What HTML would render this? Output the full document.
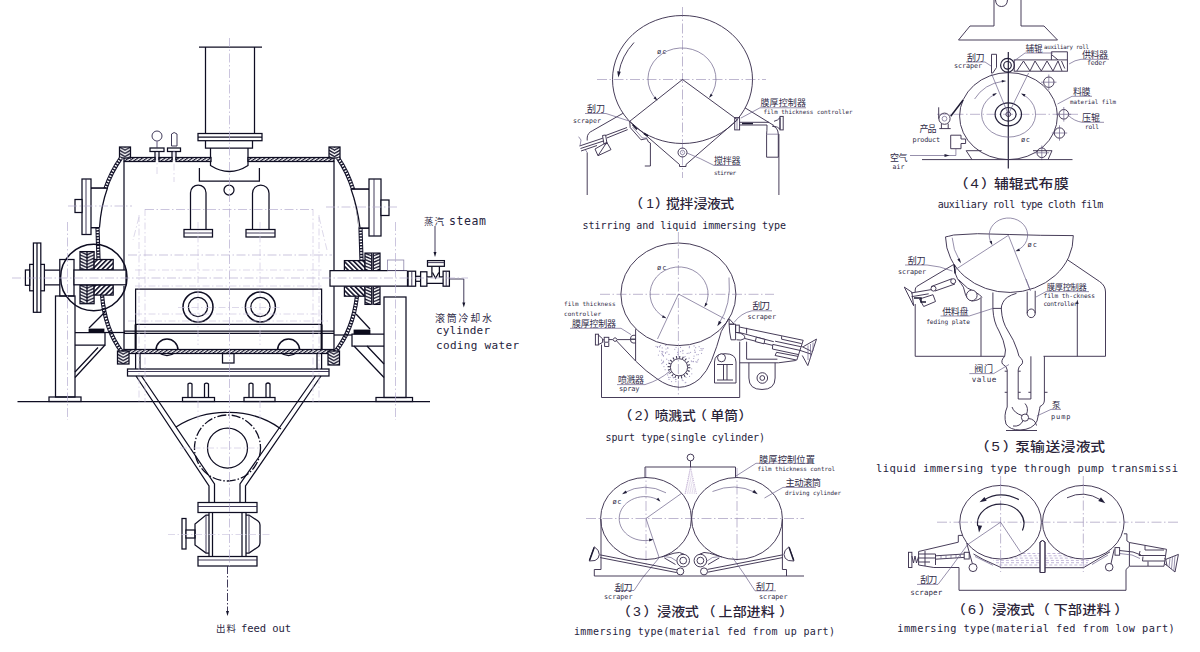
<!DOCTYPE html>
<html lang="zh"><head><meta charset="utf-8"><title>Drum dryer structure diagram</title>
<style>
html,body{margin:0;padding:0;background:#fff;}
body{width:1200px;height:652px;overflow:hidden;}
svg{display:block;}
.k{fill:none;stroke:#0e0d22;stroke-width:1.25;}
.kw{fill:#fff;stroke:#0e0d22;stroke-width:1.25;}
.kw2{fill:none;stroke:#0e0d22;stroke-width:1.5;}
.kgap{fill:none;stroke:#fff;stroke-width:2.4;}
.tl{fill:none;stroke:#8d86aa;stroke-width:.8;}
.td{fill:none;stroke:#2c2648;stroke-width:.9;stroke-dasharray:8 2 1.5 2;}
.kb{fill:none;stroke:#0c0b1c;stroke-width:2;}
.kf{fill:#0c0b1c;stroke:#0c0b1c;stroke-width:.8;}
.w{fill:#fff;stroke:none;}
.t{fill:none;stroke:#2c2648;stroke-width:.9;}
.d{fill:none;stroke:#b5acd0;stroke-width:.7;stroke-dasharray:9 2.5 1.5 2.5;}
.d2{fill:none;stroke:#cbc5de;stroke-width:.65;stroke-dasharray:7 2.5 1.5 2.5;}
.kdd{fill:none;stroke:#0e0d22;stroke-width:1.3;stroke-dasharray:9 2 1.5 2;}
.strip{fill:none;stroke:#15142b;stroke-width:4.2;}
.stripw{fill:none;stroke:#fff;stroke-width:2.2;stroke-dasharray:1.4 1.5;}
.af{fill:#15142b;stroke:none;}
.r{fill:none;stroke:#3d3350;stroke-width:.95;}
.rw{fill:#fff;stroke:#3d3350;stroke-width:.95;}
.rt{fill:none;stroke:#6a6088;stroke-width:.7;}
.rd{fill:none;stroke:#9a90b6;stroke-width:.65;stroke-dasharray:10 2.5 1.5 2.5;}
.rb{fill:none;stroke:#1d1a33;stroke-width:1.5;}
.rm{fill:none;stroke:#24203a;stroke-width:1.2;}
.raf{fill:#221f3a;stroke:none;}
.sp{fill:none;stroke:#b7a3cc;stroke-width:.7;stroke-dasharray:1.2 1;}
.lq{fill:none;stroke:#a898c8;stroke-width:.7;stroke-dasharray:3 2;}
.dot{fill:#a79fc4;stroke:none;}
text{font-family:"Liberation Mono","DejaVu Sans Mono",monospace;fill:#2a2740;}
.en{font-family:"DejaVu Sans Mono","Liberation Mono",monospace;fill:#26233d;}
.es{font-family:"DejaVu Sans Mono","Liberation Mono",monospace;fill:#2e2a45;}
.cn{font-family:"Liberation Sans","Noto Sans CJK SC",sans-serif;fill:#2f2b47;}
.ct{font-family:"Liberation Sans","Noto Sans CJK SC",sans-serif;fill:#2a2338;font-weight:500;}
</style></head>
<body>
<svg width="1200" height="652" viewBox="0 0 1200 652">
<defs>
<pattern id="h1" width="2.6" height="2.6" patternUnits="userSpaceOnUse" patternTransform="rotate(55)"><rect width="2.6" height="2.6" fill="#fff"/><rect width="1.2" height="2.6" fill="#15142b"/></pattern>
<pattern id="h1b" width="3.4" height="3.4" patternUnits="userSpaceOnUse" patternTransform="rotate(45)"><rect width="3.4" height="3.4" fill="#fff"/><rect width="1.6" height="3.4" fill="#15142b"/></pattern>
<pattern id="h1c" width="3.4" height="3.4" patternUnits="userSpaceOnUse" patternTransform="rotate(-45)"><rect width="3.4" height="3.4" fill="#fff"/><rect width="1.6" height="3.4" fill="#15142b"/></pattern>
<pattern id="h2" width="7" height="3" patternUnits="userSpaceOnUse" x="0" y="0"><rect width="7" height="3" fill="#fff"/><path d="M0,0 L3.5,3 L7,0" fill="none" stroke="#15142b" stroke-width="1.3"/></pattern>
<pattern id="cv1" x="119.5" y="147" width="11" height="3.2" patternUnits="userSpaceOnUse"><rect width="11" height="3.2" fill="#fff"/><path d="M0,0 L5.5,3.2 L11,0" transform="translate(0,-3.2)" fill="none" stroke="#15142b" stroke-width="1.3"/><path d="M0,0 L5.5,3.2 L11,0" transform="translate(0,0)" fill="none" stroke="#15142b" stroke-width="1.3"/><path d="M0,0 L5.5,3.2 L11,0" transform="translate(0,3.2)" fill="none" stroke="#15142b" stroke-width="1.3"/></pattern>
<pattern id="cv2" x="329" y="147" width="11" height="3.2" patternUnits="userSpaceOnUse"><rect width="11" height="3.2" fill="#fff"/><path d="M0,0 L5.5,3.2 L11,0" transform="translate(0,-3.2)" fill="none" stroke="#15142b" stroke-width="1.3"/><path d="M0,0 L5.5,3.2 L11,0" transform="translate(0,0)" fill="none" stroke="#15142b" stroke-width="1.3"/><path d="M0,0 L5.5,3.2 L11,0" transform="translate(0,3.2)" fill="none" stroke="#15142b" stroke-width="1.3"/></pattern>
<pattern id="cv3" x="80" y="251.6" width="14.1" height="3.2" patternUnits="userSpaceOnUse"><rect width="14.1" height="3.2" fill="#fff"/><path d="M0,0 L7.05,3.2 L14.1,0" transform="translate(0,-3.2)" fill="none" stroke="#15142b" stroke-width="1.3"/><path d="M0,0 L7.05,3.2 L14.1,0" transform="translate(0,0)" fill="none" stroke="#15142b" stroke-width="1.3"/><path d="M0,0 L7.05,3.2 L14.1,0" transform="translate(0,3.2)" fill="none" stroke="#15142b" stroke-width="1.3"/></pattern>
<pattern id="cv4" x="80" y="285" width="14.1" height="3.2" patternUnits="userSpaceOnUse"><rect width="14.1" height="3.2" fill="#fff"/><path d="M0,0 L7.05,3.2 L14.1,0" transform="translate(0,-3.2)" fill="none" stroke="#15142b" stroke-width="1.3"/><path d="M0,0 L7.05,3.2 L14.1,0" transform="translate(0,0)" fill="none" stroke="#15142b" stroke-width="1.3"/><path d="M0,0 L7.05,3.2 L14.1,0" transform="translate(0,3.2)" fill="none" stroke="#15142b" stroke-width="1.3"/></pattern>
<pattern id="cv5" x="365" y="253.1" width="15" height="3.2" patternUnits="userSpaceOnUse"><rect width="15" height="3.2" fill="#fff"/><path d="M0,0 L7.5,3.2 L15,0" transform="translate(0,-3.2)" fill="none" stroke="#15142b" stroke-width="1.3"/><path d="M0,0 L7.5,3.2 L15,0" transform="translate(0,0)" fill="none" stroke="#15142b" stroke-width="1.3"/><path d="M0,0 L7.5,3.2 L15,0" transform="translate(0,3.2)" fill="none" stroke="#15142b" stroke-width="1.3"/></pattern>
<pattern id="cv6" x="365" y="286.2" width="15" height="3.2" patternUnits="userSpaceOnUse"><rect width="15" height="3.2" fill="#fff"/><path d="M0,0 L7.5,3.2 L15,0" transform="translate(0,-3.2)" fill="none" stroke="#15142b" stroke-width="1.3"/><path d="M0,0 L7.5,3.2 L15,0" transform="translate(0,0)" fill="none" stroke="#15142b" stroke-width="1.3"/><path d="M0,0 L7.5,3.2 L15,0" transform="translate(0,3.2)" fill="none" stroke="#15142b" stroke-width="1.3"/></pattern>
<pattern id="cv7" x="117.5" y="351" width="11.5" height="3.2" patternUnits="userSpaceOnUse"><rect width="11.5" height="3.2" fill="#fff"/><path d="M0,0 L5.75,3.2 L11.5,0" transform="translate(0,-3.2)" fill="none" stroke="#15142b" stroke-width="1.3"/><path d="M0,0 L5.75,3.2 L11.5,0" transform="translate(0,0)" fill="none" stroke="#15142b" stroke-width="1.3"/><path d="M0,0 L5.75,3.2 L11.5,0" transform="translate(0,3.2)" fill="none" stroke="#15142b" stroke-width="1.3"/></pattern>
<pattern id="cv8" x="328" y="351" width="11.5" height="3.2" patternUnits="userSpaceOnUse"><rect width="11.5" height="3.2" fill="#fff"/><path d="M0,0 L5.75,3.2 L11.5,0" transform="translate(0,-3.2)" fill="none" stroke="#15142b" stroke-width="1.3"/><path d="M0,0 L5.75,3.2 L11.5,0" transform="translate(0,0)" fill="none" stroke="#15142b" stroke-width="1.3"/><path d="M0,0 L5.75,3.2 L11.5,0" transform="translate(0,3.2)" fill="none" stroke="#15142b" stroke-width="1.3"/></pattern>
</defs>
<g id="left">
<line class="k" x1="199" y1="47" x2="262" y2="47"/>
<line class="k" x1="205.5" y1="47" x2="205.5" y2="134"/>
<line class="k" x1="254.5" y1="47" x2="254.5" y2="134"/>
<rect class="k" x="198" y="133.5" width="64" height="7.2"/>
<line class="k" x1="198" y1="137.2" x2="262" y2="137.2"/>
<path class="k" d="M205.5,141 V148 H252.5 V141"/>
<path class="k" d="M210.5,148 V165.5 Q229.5,177.5 248,165.5 V148"/>
<circle class="t" cx="157" cy="136" r="5"/>
<line class="t" x1="157" y1="141" x2="157" y2="147.5"/>
<rect class="k" x="150" y="148" width="14" height="3.5"/>
<path class="k" d="M155,151.5 V160 M159,151.5 V160"/>
<path class="t" d="M171.5,146 V134 Q174,131 177,134 V146 Z"/>
<rect class="k" x="167.5" y="148" width="13" height="3.5"/>
<path class="k" d="M172,151.5 V160 M176,151.5 V160"/>
<rect class="k" x="124" y="157.5" width="31" height="4" style="fill:url(#h1)"/>
<rect class="k" x="159" y="157.5" width="13" height="4" style="fill:url(#h1)"/>
<rect class="k" x="176" y="157.5" width="35" height="4" style="fill:url(#h1)"/>
<rect class="k" x="248" y="157.5" width="86" height="4" style="fill:url(#h1)"/>
<rect class="k" style="fill:url(#cv1)" x="119.5" y="147" width="11" height="11"/>
<rect class="k" style="fill:url(#cv2)" x="329" y="147" width="11" height="11"/>
<line class="k" x1="124" y1="161.5" x2="124" y2="270"/>
<line class="k" x1="124" y1="286" x2="124" y2="350"/>
<line class="k" x1="334" y1="161.5" x2="334" y2="270"/>
<line class="k" x1="334" y1="286" x2="334" y2="350"/>
<path class="strip" d="M121,158 Q101,186 97.5,228 L98.5,259.5"/>
<path class="stripw" d="M121,158 Q101,186 97.5,228 L98.5,259.5"/>
<path class="strip" d="M338,158 Q357,186 360.5,228 L361.5,260.5"/>
<path class="stripw" d="M338,158 Q357,186 360.5,228 L361.5,260.5"/>
<path class="strip" d="M102,295 Q105,330 122,352"/>
<path class="stripw" d="M102,295 Q105,330 122,352"/>
<path class="strip" d="M357,296 Q353,330 335,352"/>
<path class="stripw" d="M357,296 Q353,330 335,352"/>
<path class="k" d="M91,188 H106 M91,227.5 H98"/>
<rect class="kw" x="82" y="179" width="9" height="55.5"/>
<line class="t" x1="86" y1="179" x2="86" y2="234.5"/>
<rect class="kw" x="75" y="199.5" width="7" height="13"/>
<path class="k" d="M369,189 H352 M369,228 H361"/>
<rect class="kw" x="369" y="179" width="12" height="57"/>
<line class="t" x1="374" y1="179" x2="374" y2="236"/>
<rect class="kw" x="381" y="200" width="8" height="15.5"/>
<path class="w" d="M92,188.6 H108.5 Q101.5,206 100.5,226.9 H92 Z"/>
<path class="w" d="M368,189.6 H350 Q357,208 358.5,227.4 H368 Z"/>
<path class="k" d="M91,188 H107.5 M91,227.5 H99"/>
<path class="k" d="M369,189 H351 M369,228 H360"/>
<path class="k" d="M107.5,188 Q101,206 99.5,227.5"/>
<path class="k" d="M351,189 Q357.5,207 360,228"/>
<circle class="kw2" cx="93.8" cy="277.5" r="33.2"/>
<rect class="k" x="59.8" y="259.5" width="14.2" height="36.5"/>
<rect class="k" style="fill:url(#cv3)" x="80" y="251.6" width="14.1" height="18.2"/>
<rect class="k" style="fill:url(#cv4)" x="80" y="285" width="14.1" height="18.7"/>
<rect class="k" x="94.1" y="259.5" width="19.1" height="10.3" style="fill:url(#h1b)"/>
<rect class="k" x="94.1" y="285" width="19.1" height="10.1" style="fill:url(#h1b)"/>
<line class="k" x1="87" y1="251.6" x2="87" y2="269.8"/>
<line class="k" x1="87" y1="285" x2="87" y2="303.7"/>
<rect class="kw" x="74" y="270" width="52" height="14.8"/>
<path class="k" d="M44.4,270 H59.8 M44.4,284.8 H59.8"/>
<rect class="kw" x="29.7" y="264.4" width="14.7" height="26.4"/>
<rect class="kw" x="33.4" y="243" width="7.4" height="69.3"/>
<line class="k" x1="37" y1="243" x2="37" y2="312.3"/>
<rect class="kw" x="25.4" y="270" width="4.3" height="15.3"/>
<rect class="k" x="344.4" y="260.6" width="20.6" height="10" style="fill:url(#h1c)"/>
<rect class="k" x="344.4" y="286.2" width="20.6" height="10" style="fill:url(#h1c)"/>
<rect class="k" style="fill:url(#cv5)" x="365" y="253.1" width="15" height="17.5"/>
<rect class="k" style="fill:url(#cv6)" x="365" y="286.2" width="15" height="18.2"/>
<path class="kgap" d="M372.5,253.1 V270.6 M372.5,286.2 V304.4"/>
<path class="k" d="M371.7,253.1 V270.6 M373.3,253.1 V270.6 M371.7,286.2 V304.4 M373.3,286.2 V304.4"/>
<rect class="tl" x="387.5" y="260" width="16.3" height="10.6"/>
<path class="kw" d="M387.5,270.6 H330 V286.2 H407.5 V271"/>
<path class="t" d="M387.5,270.6 H407.5"/>
<line class="k" x1="415.6" y1="276.3" x2="420.6" y2="276.3"/>
<line class="k" x1="415.6" y1="281.3" x2="420.6" y2="281.3"/>
<path class="k" d="M426.9,276.9 H431.9 V266.3 M439.4,266.3 V276.9 H443.1 M426.9,283.3 H443.1"/>
<rect class="kw" x="408.1" y="271.2" width="7.5" height="15"/>
<line class="t" x1="411.8" y1="271.2" x2="411.8" y2="286.2"/>
<rect class="kw" x="420.6" y="271.8" width="6.3" height="14.4"/>
<rect class="kw" x="443.1" y="271.2" width="6.3" height="15"/>
<line class="t" x1="446.2" y1="271.2" x2="446.2" y2="286.2"/>
<rect class="kw" x="427.5" y="260.6" width="16.9" height="5.7"/>
<line class="t" x1="427.5" y1="262.6" x2="444.4" y2="262.6"/>
<path class="k" d="M432.5,272.5 L435.6,278.2 L438.8,272.5"/>
<line class="t" x1="449.4" y1="279" x2="463.8" y2="279"/>
<line class="t" x1="463.8" y1="279" x2="463.8" y2="303"/>
<polygon class="af" points="463.8,307.5 462.3,302.5 465.3,302.5"/>
<line class="t" x1="435" y1="226" x2="435" y2="252.5"/>
<polygon class="af" points="435,257 433.5,252 436.5,252"/>
<path class="k" d="M135.6,350 V289 H321.6 V350"/>
<line class="k" x1="135.6" y1="324.4" x2="321.6" y2="324.4"/>
<line class="k" x1="124" y1="331" x2="334" y2="331"/>
<line class="k" x1="124" y1="333.4" x2="334" y2="333.4"/>
<line class="kb" x1="135.6" y1="324.4" x2="135.6" y2="350"/>
<line class="kb" x1="321.6" y1="324.4" x2="321.6" y2="350"/>
<circle class="kw2" cx="198" cy="307" r="15"/>
<circle class="k" cx="198" cy="307" r="9.6"/>
<circle class="kw2" cx="260.4" cy="307" r="15"/>
<circle class="k" cx="260.4" cy="307" r="9.6"/>
<path class="kw2" d="M156,350 A11,11 0 1 1 178,350"/>
<path class="k" d="M159,352.8 Q167,358.5 175,352.8"/>
<path class="kw2" d="M277.6,350 A11,11 0 1 1 299.6,350"/>
<path class="k" d="M280.6,352.8 Q288.6,358.5 296.6,352.8"/>
<rect class="k" x="124" y="349.5" width="210" height="4" style="fill:url(#h1)"/>
<rect class="k" style="fill:url(#cv7)" x="117.5" y="351" width="11.5" height="13"/>
<rect class="k" style="fill:url(#cv8)" x="328" y="351" width="11.5" height="14"/>
<rect class="k" x="222.5" y="353.5" width="11.5" height="9.5"/>
<path class="k" d="M135.6,353.5 V369 M140,353.5 V369 M317,353.5 V369 M321.6,353.5 V369"/>
<rect class="k" x="127.5" y="369" width="201.5" height="7"/>
<line class="t" x1="127.5" y1="371.5" x2="329" y2="371.5"/>
<path class="k" d="M136,376 L209,486 V502.5 M141.5,376 L214.5,484 V502.5"/>
<path class="k" d="M321,376 L245.5,486 V502.5 M315.5,376 L240,484 V502.5"/>
<path class="k" d="M176,427 Q200,412 227.5,412.5 Q258,412 281,429"/>
<circle class="k" cx="227.5" cy="448" r="20"/>
<circle class="kdd" cx="227.5" cy="448" r="33"/>
<rect class="kw" x="198" y="502.5" width="59" height="10"/>
<line class="t" x1="198" y1="506.5" x2="257" y2="506.5"/>
<path class="k" d="M209,512.5 V556.5 M212.5,512.5 V556.5 M242,512.5 V556.5 M246,512.5 V556.5"/>
<rect class="kw" x="198" y="556.5" width="59" height="9.5"/>
<line class="t" x1="198" y1="560" x2="257" y2="560"/>
<rect class="kw" x="182" y="518.5" width="4" height="30.5"/>
<rect class="kw" x="186" y="530" width="9" height="8"/>
<path class="k" d="M209,515 L206,515 L195,524 V545 L206,553 H209"/>
<line class="t" x1="206" y1="515" x2="206" y2="553"/>
<path class="k" d="M246,515 H249 L258,521 Q260,522.5 260,525 V543 Q260,545.5 258,547 L249,553 H246"/>
<line class="t" x1="249" y1="515" x2="249" y2="553"/>
<line class="td" x1="227.5" y1="566" x2="227.5" y2="612"/>
<polygon class="af" points="227.5,616 226,611 229,611"/>
<line class="k" x1="17.5" y1="401.5" x2="430" y2="401.5"/>
<rect class="k" x="55.5" y="296" width="19.5" height="101"/>
<rect class="k" x="49" y="397" width="32" height="4.5"/>
<rect class="k" x="384" y="297" width="22" height="100.5"/>
<rect class="k" x="376" y="397.5" width="36.5" height="4"/>
<path class="k" d="M75,332.5 H105 V345 H75"/>
<path class="k" d="M105,345 L75,377.5 M98,347.5 L75,372"/>
<rect class="kf" x="89" y="329" width="15" height="3.5"/>
<line class="k" x1="89" y1="328" x2="105" y2="312"/>
<path class="k" d="M384,334 H352 V346 H384"/>
<path class="k" d="M354,346 L384,377.5 M367,346 L384,364"/>
<rect class="kf" x="354" y="330" width="16" height="4"/>
<line class="k" x1="356" y1="314" x2="370" y2="329"/>
<line class="k" x1="105" y1="332.5" x2="125" y2="332.5"/>
<line class="k" x1="334" y1="335" x2="352" y2="335"/>
<path class="k" d="M188,397.5 V384 Q190,382 192,384 V397.5"/>
<path class="k" d="M204.5,397.5 V384 Q206.5,382 208.5,384 V397.5"/>
<path class="k" d="M249,397.5 V384 Q251,382 253,384 V397.5"/>
<path class="k" d="M266,397.5 V384 Q268,382 270,384 V397.5"/>
<rect class="k" x="182.5" y="397.5" width="32" height="4"/>
<rect class="k" x="244" y="397.5" width="31" height="4"/>
<path class="k" d="M199.4,168 V181 H259.4 V168"/>
<circle class="k" cx="229" cy="190" r="5"/>
<path class="k" d="M190.5,229.5 V192.75 A7.75,7.75 0 0 1 206,192.75 V229.5"/>
<rect class="k" x="184" y="229.5" width="28.5" height="7.5"/>
<line class="t" x1="184" y1="233" x2="212.5" y2="233"/>
<path class="k" d="M252.5,229.5 V193.25 A8.25,8.25 0 0 1 269,193.25 V229.5"/>
<rect class="k" x="246" y="229.5" width="29" height="7.5"/>
<line class="t" x1="246" y1="233" x2="275" y2="233"/>
<line class="d" x1="229.5" y1="38" x2="229.5" y2="566"/>
<line class="d" x1="12" y1="278" x2="468" y2="278"/>
<line class="d" x1="67.5" y1="222" x2="67.5" y2="420"/>
<line class="d" x1="395.5" y1="222" x2="395.5" y2="420"/>
<line class="d2" x1="139" y1="215" x2="139" y2="402"/>
<line class="d2" x1="145" y1="209" x2="145" y2="402"/>
<line class="d2" x1="319" y1="215" x2="319" y2="402"/>
<line class="d2" x1="313" y1="209" x2="313" y2="402"/>
<line class="d" x1="145" y1="209.5" x2="313" y2="209.5"/>
<line class="d" x1="128" y1="255" x2="332" y2="255"/>
<line class="d2" x1="135" y1="270" x2="322" y2="270"/>
<line class="d2" x1="135" y1="286" x2="322" y2="286"/>
<line class="d2" x1="135" y1="314" x2="322" y2="314"/>
<line class="d2" x1="128" y1="321" x2="330" y2="321"/>
<line class="d" x1="68" y1="206" x2="132" y2="206"/>
<line class="d" x1="326" y1="207" x2="398" y2="207"/>
<line class="d2" x1="198" y1="222" x2="198" y2="345"/>
<line class="d2" x1="260" y1="222" x2="260" y2="345"/>
<line class="d2" x1="157" y1="140" x2="157" y2="175"/>
<line class="d2" x1="174" y1="150" x2="174" y2="182"/>
<line class="d2" x1="178" y1="307.5" x2="282" y2="307.5"/>
<line class="d2" x1="180" y1="448" x2="262" y2="448"/>
<line class="d2" x1="168" y1="534.5" x2="272" y2="534.5"/>
<line class="d2" x1="198" y1="401" x2="198" y2="420"/>
<line class="d2" x1="260" y1="401" x2="260" y2="420"/>
<line class="d2" x1="139" y1="217" x2="133" y2="240"/>
<line class="d2" x1="319" y1="217" x2="327" y2="250"/>
<text class="cn" x="424" y="224.5" font-size="9.5" textLength="20" lengthAdjust="spacing">蒸汽</text>
<text class="en" x="449" y="224.5" font-size="11.5" textLength="37" lengthAdjust="spacing">steam</text>
<text class="cn" x="435" y="321.5" font-size="10" textLength="57" lengthAdjust="spacing">滚筒冷却水</text>
<text class="en" x="436" y="334" font-size="11" textLength="54" lengthAdjust="spacing">cylinder</text>
<text class="en" x="436" y="348.5" font-size="11" textLength="83" lengthAdjust="spacing">coding water</text>
<text class="cn" x="216" y="632" font-size="9.5" textLength="20" lengthAdjust="spacing">出料</text>
<text class="en" x="241" y="631.5" font-size="10.5" textLength="50" lengthAdjust="spacing">feed out</text>
</g>
<g id="d1">
<line class="rd" x1="597" y1="79.5" x2="766" y2="79.5"/>
<line class="rd" x1="682.5" y1="7" x2="682.5" y2="178"/>
<ellipse class="r" cx="682.5" cy="79.5" rx="70" ry="64"/>
<path class="rt" d="M656.5,99.5 A34,31 0 1 1 710,96.5"/>
<polygon class="raf" points="657.5,100.8 653.52,98.33 655.46,96.59"/>
<polygon class="raf" points="709,98 710.75,93.65 712.79,95.25"/>
<text class="es" x="657" y="53.5" font-size="7" textLength="9.5" lengthAdjust="spacing">øc</text>
<path class="r" d="M634,42.5 Q621.5,56 618.8,73"/>
<polygon class="raf" points="618.3,77.5 617.24,71.33 620.82,71.76"/>
<path class="r" d="M629.7,121.3 L682.5,79.5 L737.5,119.8 L686,164.5 V166.5 H679.5 V164.5 Z"/>
<circle class="r" cx="682.5" cy="152.5" r="4.5"/>
<circle class="rt" cx="682.5" cy="152.5" r="2.2"/>
<path class="rt" d="M687,153 Q700,158 714,165.5 H741"/>
<path class="r" d="M622.8,113.4 L592.7,130.6 Q587.2,133 587.2,138 V140.5 M587.2,152.5 V195"/>
<path class="r" d="M629.7,121.3 L630.2,127.5 L641,139.8 L646.7,138.6 L648.5,142 L650.4,143 V166 H644.8"/>
<path class="rt" d="M632.6,127 L642.4,138 H647.3"/>
<line class="rb" x1="632.5" y1="124.5" x2="637" y2="129.5"/>
<line class="rb" x1="644" y1="133.5" x2="648" y2="136"/>
<path class="r" d="M627,127.5 L605.6,135.5 M627.7,129.6 L606.8,138"/>
<path class="r" d="M602.5,135.5 L605.6,135 L607,143.5 L604,144 Z"/>
<path class="r" d="M579.5,146 L602.8,138.2 M580.5,148.5 L603.5,141 M581,151 L597,145.5"/>
<path class="r" d="M595,149 L606.8,142.3 L611,149.6 L598,155.7 Z M598,155.7 L606.8,142.3"/>
<path class="rt" d="M578.6,136.7 L581,140 L580,146 M587.2,152.5 L585.5,150"/>
<line class="r" x1="745" y1="107.8" x2="774" y2="125.6"/>
<rect class="r" x="734.7" y="117.6" width="4.9" height="12.3"/>
<line class="rt" x1="737" y1="117.6" x2="737" y2="129.9"/>
<path class="r" d="M739.6,122.3 H769 M739.6,125 H767"/>
<line class="rb" x1="742" y1="123.6" x2="753" y2="123.6"/>
<path class="r" d="M774,121.3 Q778,120.5 780,117.6 V129.3 Q778,126.8 774,126.2"/>
<rect class="r" x="780" y="116.4" width="3.2" height="13.5"/>
<path class="r" d="M767,125 Q767,131 766.6,134.2 V157.2 H778.3 V134.2 Q778,127 772,126"/>
<line class="rt" x1="766.6" y1="134.2" x2="778.3" y2="134.2"/>
<line class="r" x1="778.9" y1="134" x2="778.9" y2="195"/>
<text class="cn" x="587" y="112" font-size="9" textLength="18" lengthAdjust="spacing">刮刀</text>
<path class="rt" d="M585,113.5 H606 L629,121"/>
<text class="es" x="573" y="122.5" font-size="6.5" textLength="28" lengthAdjust="spacing">scraper</text>
<text class="cn" x="760.5" y="106" font-size="9" textLength="45.5" lengthAdjust="spacing">膜厚控制器</text>
<path class="rt" d="M806,107.8 H760 L741,118"/>
<text class="es" x="763.5" y="114" font-size="5.9" textLength="89" lengthAdjust="spacing">film thickness controller</text>
<text class="cn" x="714" y="164.3" font-size="9" textLength="26.5" lengthAdjust="spacing">搅拌器</text>
<text class="es" x="714" y="174.5" font-size="6" textLength="22" lengthAdjust="spacing">stirrer</text>
<text class="ct" transform="scale(1.1,1)" font-size="12.6" x="572.09 587.45 595.36 605.55 617.82 630.45 642.73 654.82" y="208.3">（1）搅拌浸液式</text>
<text class="en" x="582.5" y="229" font-size="10" textLength="203.5" lengthAdjust="spacing">stirring and liquid immersing type</text>
</g>
<g id="d2">
<line class="rd" x1="600" y1="294.3" x2="774" y2="294.3"/>
<line class="rd" x1="678.4" y1="232" x2="678.4" y2="396"/>
<circle class="dot" cx="686.01" cy="377.51" r="0.6"/>
<circle class="dot" cx="689.45" cy="346.72" r="0.6"/>
<circle class="dot" cx="660.5" cy="345.62" r="0.6"/>
<circle class="dot" cx="680.53" cy="347.44" r="0.6"/>
<circle class="dot" cx="662.27" cy="354.92" r="0.6"/>
<circle class="dot" cx="675.79" cy="379.54" r="0.6"/>
<circle class="dot" cx="669.02" cy="354.42" r="0.6"/>
<circle class="dot" cx="667.61" cy="347.88" r="0.6"/>
<circle class="dot" cx="693.38" cy="361.42" r="0.6"/>
<circle class="dot" cx="697.72" cy="360.85" r="0.6"/>
<circle class="dot" cx="694.04" cy="356.06" r="0.6"/>
<circle class="dot" cx="658.37" cy="355.1" r="0.6"/>
<circle class="dot" cx="657.46" cy="347.46" r="0.6"/>
<circle class="dot" cx="695.04" cy="352.28" r="0.6"/>
<circle class="dot" cx="663.49" cy="356.06" r="0.6"/>
<circle class="dot" cx="663.38" cy="361.17" r="0.6"/>
<circle class="dot" cx="663.52" cy="355.59" r="0.6"/>
<circle class="dot" cx="693.73" cy="358.49" r="0.6"/>
<circle class="dot" cx="668" cy="348.01" r="0.6"/>
<circle class="dot" cx="665.12" cy="369.65" r="0.6"/>
<circle class="dot" cx="683.03" cy="380.53" r="0.6"/>
<circle class="dot" cx="661.87" cy="351.32" r="0.6"/>
<circle class="dot" cx="665.47" cy="352.78" r="0.6"/>
<circle class="dot" cx="674.76" cy="349.26" r="0.6"/>
<circle class="dot" cx="684.21" cy="357.03" r="0.6"/>
<circle class="dot" cx="682.21" cy="379.95" r="0.6"/>
<circle class="dot" cx="685.17" cy="356.49" r="0.6"/>
<circle class="dot" cx="701.54" cy="353.36" r="0.6"/>
<circle class="dot" cx="676.07" cy="347.48" r="0.6"/>
<circle class="dot" cx="661.52" cy="360.12" r="0.6"/>
<circle class="dot" cx="682.9" cy="350.39" r="0.6"/>
<circle class="dot" cx="671.56" cy="381.53" r="0.6"/>
<circle class="dot" cx="659.58" cy="346.44" r="0.6"/>
<circle class="dot" cx="691.8" cy="373.85" r="0.6"/>
<circle class="dot" cx="691.32" cy="360.93" r="0.6"/>
<circle class="dot" cx="691.69" cy="368.82" r="0.6"/>
<circle class="dot" cx="675.79" cy="379.37" r="0.6"/>
<circle class="dot" cx="677.97" cy="354.44" r="0.6"/>
<circle class="dot" cx="685.18" cy="382.74" r="0.6"/>
<circle class="dot" cx="665.81" cy="345.46" r="0.6"/>
<circle class="dot" cx="668.26" cy="372.8" r="0.6"/>
<circle class="dot" cx="662.94" cy="351.95" r="0.6"/>
<circle class="dot" cx="675.86" cy="381.56" r="0.6"/>
<circle class="dot" cx="662.72" cy="362.67" r="0.6"/>
<circle class="dot" cx="666.95" cy="351.93" r="0.6"/>
<circle class="dot" cx="663.56" cy="361.97" r="0.6"/>
<circle class="dot" cx="669.03" cy="379.4" r="0.6"/>
<circle class="dot" cx="656.03" cy="346.29" r="0.6"/>
<circle class="dot" cx="699.13" cy="346.7" r="0.6"/>
<circle class="dot" cx="668.69" cy="377.45" r="0.6"/>
<circle class="dot" cx="696.8" cy="354.73" r="0.6"/>
<circle class="dot" cx="659.61" cy="346.92" r="0.6"/>
<circle class="dot" cx="688.96" cy="353.17" r="0.6"/>
<circle class="dot" cx="677.66" cy="352.33" r="0.6"/>
<circle class="dot" cx="690.57" cy="352.34" r="0.6"/>
<circle class="dot" cx="666.71" cy="359.18" r="0.6"/>
<circle class="dot" cx="673.25" cy="377.47" r="0.6"/>
<circle class="dot" cx="700.94" cy="348.58" r="0.6"/>
<circle class="dot" cx="685.78" cy="382.31" r="0.6"/>
<circle class="dot" cx="687.17" cy="353.4" r="0.6"/>
<circle class="dot" cx="698.21" cy="359.29" r="0.6"/>
<circle class="dot" cx="695.69" cy="347.63" r="0.6"/>
<circle class="dot" cx="695.19" cy="352.09" r="0.6"/>
<circle class="dot" cx="670.09" cy="377.3" r="0.6"/>
<circle class="dot" cx="659.59" cy="351.1" r="0.6"/>
<circle class="dot" cx="703.25" cy="348.53" r="0.6"/>
<circle class="dot" cx="663.96" cy="366.59" r="0.6"/>
<circle class="dot" cx="667.67" cy="374.88" r="0.6"/>
<circle class="dot" cx="668.83" cy="360.63" r="0.6"/>
<circle class="dot" cx="682.94" cy="353.24" r="0.6"/>
<circle class="dot" cx="673.63" cy="377.84" r="0.6"/>
<circle class="dot" cx="689.31" cy="347.7" r="0.6"/>
<circle class="dot" cx="666.54" cy="364.4" r="0.6"/>
<circle class="dot" cx="701.96" cy="350.31" r="0.6"/>
<circle class="dot" cx="694.08" cy="345.93" r="0.6"/>
<circle class="dot" cx="662.48" cy="354.32" r="0.6"/>
<circle class="dot" cx="689.1" cy="358.21" r="0.6"/>
<circle class="dot" cx="665.53" cy="353.11" r="0.6"/>
<circle class="dot" cx="680.58" cy="351.55" r="0.6"/>
<circle class="dot" cx="698.27" cy="354.54" r="0.6"/>
<circle class="dot" cx="699.93" cy="350.49" r="0.6"/>
<circle class="dot" cx="666.01" cy="348.98" r="0.6"/>
<circle class="dot" cx="696.94" cy="362.29" r="0.6"/>
<circle class="dot" cx="694.66" cy="350.17" r="0.6"/>
<circle class="dot" cx="662.21" cy="347.89" r="0.6"/>
<circle class="dot" cx="657.73" cy="346.53" r="0.6"/>
<circle class="dot" cx="682.71" cy="351.01" r="0.6"/>
<circle class="dot" cx="661.96" cy="353.36" r="0.6"/>
<circle class="dot" cx="702.05" cy="348.91" r="0.6"/>
<circle class="dot" cx="661.79" cy="363.61" r="0.6"/>
<circle class="dot" cx="691.92" cy="361.62" r="0.6"/>
<circle class="dot" cx="662.54" cy="351.77" r="0.6"/>
<circle class="dot" cx="695.99" cy="361.63" r="0.6"/>
<circle class="dot" cx="689.52" cy="376.46" r="0.6"/>
<circle class="dot" cx="693.32" cy="361.64" r="0.6"/>
<ellipse class="r" cx="678.4" cy="294.3" rx="57.5" ry="51.3"/>
<path class="rt" d="M665.5,317.8 A29,27 0 1 1 705,306"/>
<polygon class="raf" points="666.5,318.3 661.89,317.5 663.03,315.16"/>
<polygon class="raf" points="704.4,307.3 705.36,302.72 707.66,303.94"/>
<text class="es" x="657" y="270" font-size="7" textLength="9.5" lengthAdjust="spacing">øc</text>
<path class="rt" d="M657.5,339 L678.5,294 L725,319"/>
<path class="rt" d="M729,277.5 Q731.5,305 719,323.5"/>
<polygon class="raf" points="717.3,326.3 718.86,320.79 721.57,322.48"/>
<path class="r" d="M635.6,329.2 V361"/>
<path class="r" d="M615.3,339.6 L635.6,361 Q646,371.5 656.9,378.7 Q668,386.8 679.4,387.3 Q690,387 699.8,378.7 Q707,371.5 711.6,360.4 Q717,347 721.3,331.4 L728.5,319"/>
<circle class="r" cx="679" cy="367.3" r="8.6"/>
<circle cx="679" cy="367.3" r="10.2" fill="none" stroke="#3a3352" stroke-width="2.4" stroke-dasharray="1 2.2"/>
<path class="r" d="M601.5,344.6 V397.5 H739.7 V341.7"/>
<rect class="r" x="595.4" y="334.2" width="3" height="10.8"/>
<path class="r" d="M598.4,335 L602.6,338.8 V342.4 L598.4,344.6"/>
<rect class="r" x="604.2" y="337.3" width="4.6" height="4.9"/>
<path class="r" d="M604.6,343 V346.5 H608.8 V343"/>
<path class="r" d="M602.6,339.8 H604.2 M608.8,339.6 H612.6 M617.6,339.6 H630.6"/>
<path class="rw" d="M612.6,339.6 L615,337.6 L617.6,339.6 L615,341.6 Z"/>
<path class="r" d="M635.6,335.3 H633 Q630.4,335.6 630.4,339.2 Q630.4,342.8 633,343 H635.6"/>
<line class="rm" x1="631" y1="339.2" x2="635.6" y2="339.2"/>
<path class="r" d="M729.1,318.7 L734.2,324.2 H729.1 Z"/>
<path class="r" d="M729.1,324.2 H735.6 V339.8 H731 Q729.3,332 729.1,324.2"/>
<rect class="r" x="735.6" y="325.1" width="3.7" height="7.4"/>
<path class="r" d="M739.3,327 L803.2,340.3 L796.8,360.1"/>
<path class="r" d="M739.3,332.5 L773.8,341.7 M744.8,338.5 L772.8,345.4"/>
<path class="r" d="M736.5,332.5 Q745.5,333.5 744.8,338.5 Q741,341 736.5,339.8"/>
<line class="r" x1="746.6" y1="327.8" x2="746.6" y2="333.6"/>
<path class="rw" d="M756.3,337.2 L764.9,339.4 L764,343.8 L755.3,341.6 Z"/>
<path class="r" d="M781.6,336.2 V339.2 L801.6,343.6"/>
<path class="r" d="M775.1,341.2 L800.9,346.7"/>
<path class="r" d="M772.8,344.4 L800,350.4 M772.8,344.4 L772.4,349 L798.6,354.6"/>
<path class="r" d="M776.5,352.3 L798.1,356.4 M776.5,352.3 L775.1,355.5 L796.8,360.1"/>
<path class="r" d="M801.4,346.3 L811.5,351.3 M800,350.4 L811,354.1"/>
<path class="r" d="M803.2,346.7 L816.5,339.1 L807.8,365.6 L802.3,355.5"/>
<path class="rt" d="M808,345.5 V360 M810.5,344 V358 M813,342.5 V351"/>
<path class="r" d="M746.6,341.7 V359.2 H777.4 M739.7,362.8 H778.4 L795.8,360.5"/>
<path class="r" d="M748.9,362.8 V378 Q748.9,389.5 762,389.5 Q775.1,389.5 775.1,378 V362.8"/>
<circle class="r" cx="762.3" cy="378" r="5.3"/>
<circle class="r" cx="762.3" cy="378" r="2.4"/>
<path class="r" d="M714.5,383 V362 Q714.5,353.7 725,353.7 Q736,353.7 736,362 V383 Z"/>
<circle class="rw" cx="721.5" cy="357.8" r="4"/>
<path class="r" d="M717,364.5 H733 M717,380 H733 M723.5,364.5 V380 M727,364.5 V380"/>
<text class="es" x="564" y="306" font-size="6" textLength="51.5" lengthAdjust="spacing">film thickness</text>
<text class="es" x="564" y="315.5" font-size="6" textLength="37" lengthAdjust="spacing">controller</text>
<text class="cn" x="572" y="327.3" font-size="9" textLength="44" lengthAdjust="spacing">膜厚控制器</text>
<path class="rt" d="M570,328.3 H621 L631,334.6"/>
<text class="cn" x="618" y="383" font-size="9" textLength="26" lengthAdjust="spacing">喷溅器</text>
<path class="rt" d="M617,384.6 H645 Q660,380 670,371"/>
<text class="es" x="619" y="391.3" font-size="7" textLength="20.5" lengthAdjust="spacing">spray</text>
<text class="cn" x="752.5" y="309.3" font-size="9.5" textLength="17.5" lengthAdjust="spacing">刮刀</text>
<path class="rt" d="M772,310.8 H752 Q741,313 734,322.5"/>
<text class="es" x="747.5" y="319" font-size="6.8" textLength="28.5" lengthAdjust="spacing">scraper</text>
<text class="ct" transform="scale(1.1,1)" font-size="12.6" x="562.18 577 585 595.27 607.45 620 630.09 646 658.45 671.45" y="419.7">（2）喷溅式（单筒）</text>
<text class="en" x="605.5" y="440.5" font-size="10" textLength="159.5" lengthAdjust="spacing">spurt type(single cylinder)</text>
</g>
<g id="d3">
<line class="rd" x1="586" y1="518.5" x2="804" y2="518.5"/>
<line class="rd" x1="646" y1="468" x2="646" y2="566"/>
<line class="rd" x1="737" y1="468" x2="737" y2="566"/>
<line class="sp" x1="689.9" y1="469.0" x2="691.1" y2="469.0"/>
<line class="sp" x1="689.5" y1="471.0" x2="691.5" y2="471.0"/>
<line class="sp" x1="689.1" y1="473.0" x2="691.9" y2="473.0"/>
<line class="sp" x1="688.6" y1="475.0" x2="692.4" y2="475.0"/>
<line class="sp" x1="688.2" y1="477.0" x2="692.8" y2="477.0"/>
<line class="sp" x1="687.8" y1="479.0" x2="693.2" y2="479.0"/>
<line class="sp" x1="687.4" y1="481.0" x2="693.6" y2="481.0"/>
<line class="sp" x1="687.0" y1="483.0" x2="694.0" y2="483.0"/>
<line class="sp" x1="686.5" y1="485.0" x2="694.5" y2="485.0"/>
<line class="sp" x1="686.1" y1="487.0" x2="694.9" y2="487.0"/>
<line class="sp" x1="685.7" y1="489.0" x2="695.3" y2="489.0"/>
<line class="sp" x1="685.3" y1="491.0" x2="695.7" y2="491.0"/>
<line class="sp" x1="684.9" y1="493.0" x2="696.1" y2="493.0"/>
<path class="sp" d="M690.5,467 L685,494 M690.5,467 L696.5,494"/>
<ellipse class="r" cx="646" cy="518.5" rx="45.4" ry="41"/>
<ellipse class="r" cx="737" cy="518.5" rx="45.4" ry="41"/>
<path class="r" d="M645,477.5 V467 H735.5 V477.5"/>
<circle class="r" cx="690.5" cy="457.5" r="3.4"/>
<line class="r" x1="690.5" y1="461" x2="690.5" y2="467"/>
<path class="rt" d="M659,500.3 A25.6,22 0 1 0 651.6,539.8"/>
<polygon class="raf" points="660.5,501.8 656.33,499.61 658.31,497.63"/>
<polygon class="raf" points="653.6,539.6 649.24,541.39 649,538.6"/>
<path class="rt" d="M623.5,493 Q645,481.5 666,492.8"/>
<polygon class="raf" points="622,494.2 625.58,490.4 627.08,493"/>
<text class="es" x="612.5" y="503.5" font-size="7" textLength="9" lengthAdjust="spacing">øc</text>
<path class="rt" d="M681.2,493.6 L646,518.5 L659.2,557.7 L642.4,578 L634,590.5 H614"/>
<path class="rt" d="M712.5,491.5 Q735,482 755.5,492.5"/>
<polygon class="raf" points="757.8,494.3 752.38,492.46 754.21,489.83"/>
<path class="r" d="M601,519 V569.5 H594.3 V576 M782.4,519 V569.5 H786.5 V576"/>
<line class="r" x1="594.3" y1="576" x2="804" y2="576"/>
<path class="r" d="M600.2,554.9 L677,569.9 M600.2,557.6 L676.8,572.6"/>
<path class="r" d="M782.5,554.9 L707.5,569.4 M782.5,557.6 L707.7,572.2"/>
<path class="r" d="M589.2,561 L594.3,546.8 Q599.5,550 599.3,554.6 Q599,559 595,560.5 Z"/>
<line class="rb" x1="589.6" y1="560.2" x2="594.2" y2="547.4"/>
<path class="r" d="M794,561 L789,546.8 Q783.8,550 784,554.6 Q784.3,559 788.3,560.5 Z"/>
<line class="rb" x1="793.6" y1="560.2" x2="789.1" y2="547.4"/>
<path class="r" d="M661.8,556.9 L674,553.2 Q680,551.2 684,554.3 M664.3,557.9 L675.5,564.5"/>
<path class="r" d="M721.8,556.9 L709.5,553.2 Q703.5,551.2 699.5,554.3 M719.3,557.9 L708,564.5"/>
<path class="rt" d="M663.5,556.5 L671,557.5 L676.5,561"/>
<path class="rt" d="M720,556.5 L712.5,557.5 L707,561"/>
<circle class="r" cx="683.2" cy="560.6" r="6.3"/>
<circle class="r" cx="683.2" cy="560.6" r="3.4"/>
<circle class="r" cx="700.4" cy="560.6" r="6.3"/>
<circle class="r" cx="700.4" cy="560.6" r="3.4"/>
<circle class="rw" cx="680.3" cy="571.4" r="3.5"/>
<circle class="rw" cx="704" cy="571.4" r="3.5"/>
<text class="cn" x="615" y="590.5" font-size="9" textLength="17.5" lengthAdjust="spacing">刮刀</text>
<text class="es" x="604" y="599" font-size="6.8" textLength="28.5" lengthAdjust="spacing">scraper</text>
<text class="cn" x="756" y="589.5" font-size="9" textLength="18" lengthAdjust="spacing">刮刀</text>
<path class="rt" d="M776,590.8 H755 L744,574 L732.5,557.5"/>
<text class="es" x="759" y="599" font-size="6.8" textLength="28.5" lengthAdjust="spacing">scraper</text>
<text class="cn" x="759" y="462.5" font-size="9.3" textLength="56" lengthAdjust="spacing">膜厚控制位置</text>
<path class="rt" d="M809,463.3 H756 L736,476"/>
<text class="es" x="757.5" y="470.8" font-size="5.9" textLength="77.5" lengthAdjust="spacing">film thickness control</text>
<text class="cn" x="785.5" y="486" font-size="9.3" textLength="35.5" lengthAdjust="spacing">主动滚筒</text>
<path class="rt" d="M816,487.4 H783 L764.5,498"/>
<text class="es" x="785" y="495" font-size="5.9" textLength="56" lengthAdjust="spacing">driving cylinder</text>
<text class="ct" transform="scale(1.09,1)" font-size="12.9" x="565.78 580.73 590.37 602.75 615.78 628.26 643.49 659.17 672.29 684.86 697.98 714.95" y="616.5">（3）浸液式（上部进料）</text>
<text class="en" x="574" y="635" font-size="10" textLength="261" lengthAdjust="spacing">immersing type(material fed from up part)</text>
</g>
<g id="d4">
<line class="rd" x1="937" y1="114.3" x2="1078" y2="114.3"/>
<path class="r" d="M994,0 V26 H970 L958.5,40 H1057.5 L1044,26 H1021 V0"/>
<path class="r" d="M995.5,0 Q996,6.5 1001.5,6.5 Q1007,6.5 1007.5,0"/>
<ellipse class="r" cx="1008.5" cy="116.1" rx="48.9" ry="43.5"/>
<line class="rm" x1="1008.3" y1="52" x2="1008.3" y2="168.5"/>
<ellipse class="rm" cx="1008.3" cy="114.3" rx="13.2" ry="11.5"/>
<ellipse class="rm" cx="1008.3" cy="114.3" rx="7.8" ry="6.8"/>
<ellipse class="r" cx="1008.3" cy="114.3" rx="2.4" ry="2.2"/>
<path class="rt" d="M995.7,93.9 A27,23 0 1 0 1022.3,94.3"/>
<polygon class="raf" points="997,93 993.64,96.26 992.42,93.96"/>
<polygon class="raf" points="1021,93.4 1025.58,94.36 1024.36,96.66"/>
<path class="rt" d="M991.5,73.7 L1008.3,114.3 L1028.6,73"/>
<path class="rt" d="M974.6,99 Q984,84 1003,81.2"/>
<polygon class="raf" points="1006.3,81 1001.87,82.53 1001.74,79.94"/>
<text class="es" x="1021" y="141.5" font-size="7" textLength="9" lengthAdjust="spacing">øc</text>
<path class="r" d="M991.5,54.3 H996.5 V67.5 L992.8,73 H991.5 Z"/>
<circle class="rm" cx="1007.5" cy="65.3" r="6.9"/>
<circle class="rm" cx="1007.5" cy="65.3" r="3.8"/>
<rect class="r" x="1014.2" y="59.9" width="53.2" height="11.3"/>
<path class="r" d="M1016.8,71 L1023.5,61 L1030,71 L1035,61 L1041.3,71 L1047,61 L1053,71 L1058,61 L1062,71 M1061.5,61 L1064.8,68.5"/>
<path class="r" d="M1051.4,59.9 V51.8 H1067.4 V59.9 M1052,55 L1058,59.9"/>
<circle class="rw" cx="1048.8" cy="82.2" r="5.2"/>
<path class="rt" d="M1041.1,82.2 H1056.5 M1048.8,74.5 V89.9"/>
<circle class="rw" cx="1063.8" cy="114.3" r="4.8"/>
<path class="rt" d="M1056.5,114.3 H1071.1 M1063.8,107.0 V121.6"/>
<circle class="rw" cx="1059.5" cy="133" r="5.2"/>
<path class="rt" d="M1051.8,133 H1067.2 M1059.5,125.3 V140.7"/>
<circle class="rw" cx="1041.8" cy="152.8" r="4.8"/>
<path class="rt" d="M1034.5,152.8 H1049.1 M1041.8,145.5 V160.10000000000002"/>
<line class="rb" x1="963.1" y1="100" x2="950.7" y2="116.2"/>
<circle class="r" cx="944.5" cy="118.7" r="5.6"/>
<circle class="rt" cx="944.5" cy="118.7" r="2.4"/>
<line class="r" x1="938.7" y1="107.3" x2="938.7" y2="118.7"/>
<path class="r" d="M941.4,123.6 V128.6 M948.2,123.6 V128.6 M939.3,128.6 H950.7"/>
<path class="r" d="M950.7,135.2 H961 V139 H965.6 V143.5 H961 V148.7 H950.7 Z"/>
<path class="rt" d="M955.9,148.7 V155.5 H910"/>
<polygon class="raf" points="949.5,155.5 944.5,156.9 944.5,154.1"/>
<path class="r" d="M981.7,150.7 H966.2 L972,159.6"/>
<path class="r" d="M1033,150.7 H1052 L1048,159.6"/>
<line class="r" x1="922" y1="159.6" x2="1072.5" y2="159.6"/>
<text class="cn" x="967" y="60.5" font-size="9" textLength="17.5" lengthAdjust="spacing">刮刀</text>
<path class="rt" d="M966,62 H985 L991,66"/>
<text class="es" x="954" y="68" font-size="6.8" textLength="28" lengthAdjust="spacing">scraper</text>
<text class="cn" x="1025.5" y="52" font-size="8.6" textLength="17.2" lengthAdjust="spacing">辅辊</text>
<path class="rt" d="M1053,53 H1025 L1014,61"/>
<text class="es" x="1044" y="49.3" font-size="5.8" textLength="45" lengthAdjust="spacing">auxiliary roll</text>
<text class="cn" x="1082" y="58" font-size="9" textLength="26" lengthAdjust="spacing">供料器</text>
<path class="rt" d="M1109,59.3 H1081 Q1075,60 1069,64"/>
<text class="es" x="1087" y="65" font-size="6.6" textLength="19" lengthAdjust="spacing">feder</text>
<text class="cn" x="1073" y="95" font-size="9" textLength="17.5" lengthAdjust="spacing">料膜</text>
<path class="rt" d="M1092,96.3 H1072 L1057.5,104"/>
<text class="es" x="1070" y="104" font-size="5.9" textLength="46" lengthAdjust="spacing">material film</text>
<text class="cn" x="1082" y="121" font-size="9" textLength="18" lengthAdjust="spacing">压辊</text>
<path class="rt" d="M1104,122.3 H1082 Q1074,121 1068.5,115.5"/>
<text class="es" x="1085" y="129" font-size="6.2" textLength="14" lengthAdjust="spacing">roll</text>
<text class="cn" x="919.5" y="132.3" font-size="9" textLength="17" lengthAdjust="spacing">产品</text>
<text class="es" x="912.5" y="142.3" font-size="6.8" textLength="27.5" lengthAdjust="spacing">product</text>
<text class="cn" x="890" y="161" font-size="9" textLength="17.5" lengthAdjust="spacing">空气</text>
<text class="es" x="892.5" y="168.7" font-size="6.5" textLength="12" lengthAdjust="spacing">air</text>
<text class="ct" transform="scale(1.15,1)" font-size="12.9" x="829.3 844 853.04 864.35 877.13 890 903.13 916.52" y="188.5">（4）辅辊式布膜</text>
<text class="en" x="937.7" y="208" font-size="10" textLength="165.7" lengthAdjust="spacing">auxiliary roll type cloth film</text>
</g>
<g id="d5">
<path class="r" d="M945.5,236.9 A63.9,56.2 0 0 0 1073.3,235.6 L1040.8,235.3 L1009.2,234.5 L977.5,233.7 L953.7,235 Q948,236.5 945.5,236.9 Z"/>
<path class="rt" d="M991.7,243.5 A19.2,17.1 0 1 1 1016.8,250.5"/>
<polygon class="raf" points="992.3,245.3 989.41,241.61 991.82,240.64"/>
<polygon class="raf" points="1015.3,251.3 1019.08,248.54 1019.97,250.98"/>
<path class="rt" d="M955.5,269.5 L1008.4,235.3 L1029.7,289.2"/>
<text class="es" x="1027.5" y="247.3" font-size="7" textLength="9.5" lengthAdjust="spacing">øc</text>
<path class="rt" d="M952.2,237.7 Q953,250 959.5,260.5"/>
<polygon class="raf" points="961,263.2 957.29,259.57 959.71,258.17"/>
<path class="r" d="M954,264.3 L917,286.3 Q915.2,287.6 915.2,290 V292 M915.2,304 V356.3 H1004.7"/>
<path class="r" d="M1067.7,259.9 L1099.5,281.5 Q1105.5,285.5 1105.5,292 V356.3 H1043.5"/>
<line class="r" x1="981" y1="298" x2="981" y2="356.3"/>
<line class="r" x1="1077.3" y1="303" x2="1077.3" y2="356.3"/>
<polygon class="raf" points="1077.3,299.5 1078.6,304 1076,304"/>
<path class="r" d="M954,264.3 L955,272.8 Q957,279.5 961,283.5 Q964,287 964.5,291 Q966,299.5 972,301 Q979,300.5 981.5,297"/>
<path class="r" d="M958.5,279.5 Q963,284 967.5,288 Q973,290.5 979.4,294.7 L982,297.3"/>
<circle class="rw" cx="971.8" cy="295.4" r="5.3"/>
<line class="rb" x1="954.3" y1="265" x2="955.2" y2="273.5"/>
<path class="r" d="M931,286.6 L951.8,278.8 M935,291 L955,284"/>
<circle class="rw" cx="953.2" cy="281.2" r="2.5"/>
<circle class="rw" cx="933.5" cy="288.6" r="2.5"/>
<path class="r" d="M904.3,287.1 L911.9,292.2 L913.6,305.7 Z"/>
<path class="r" d="M911,293 L931.3,289.6 M911.5,296.7 L928.7,293.8"/>
<path class="r" d="M919.5,299 L933,294.7 L935.5,301.5 L923.7,306.5 Z"/>
<path class="rb" d="M914,298 H921 V302 H926"/>
<path class="r" d="M992.9,292.5 V309 Q993.5,322 999,331 Q1004,340 1005.5,350 L1004.7,356.3"/>
<path class="r" d="M1016.5,293.3 Q1005.5,296.5 1003,302.3 Q1001,306 1001.3,309 Q1002,322 1008,331 Q1014,340 1017.2,350 L1019,356.3"/>
<line class="r" x1="992.9" y1="308.4" x2="1001.3" y2="308.4"/>
<path class="r" d="M1027.2,291.5 V313.3 M1035.2,290.8 V313.3"/>
<ellipse class="r" cx="1031.2" cy="313.3" rx="4" ry="4.3"/>
<line class="rt" x1="1026" y1="279" x2="1030.5" y2="291"/>
<path class="r" d="M1004.7,356.3 Q1000.5,360.5 1002.5,364 Q1007.2,366.5 1007.2,370 V407 Q1003.5,415 1006,424 Q1010,430 1020,430 Q1033,429.5 1037,421 Q1039.5,410 1040,406.5 Q1044.4,404.5 1044.4,400 V356.3"/>
<path class="r" d="M1019,356.3 Q1024.2,360.5 1022,364 Q1018.2,366.5 1018.2,370 V399 H1030.9 V356.3"/>
<path class="r" d="M1004.7,371.2 H1007.2 M1018.2,371.2 H1020.7 M1004.7,392.3 H1007.2 M1018.2,392.3 H1020.7 M1028.4,392.3 H1030.9 M1044.4,392.3 H1047.5"/>
<line class="r" x1="1006" y1="430.5" x2="1037" y2="430.5"/>
<circle class="r" cx="1025" cy="417.6" r="3.6"/>
<path class="r" d="M1022,415.5 Q1014,413 1012,407 M1026.5,414.3 Q1029,408 1025,403.5 M1028.5,418.5 Q1035,419 1036.5,425.5 M1023,420.7 Q1020,427 1013,426"/>
<text class="cn" x="907.7" y="264" font-size="9" textLength="17.7" lengthAdjust="spacing">刮刀</text>
<path class="rt" d="M905,265 H927 Q940,266 952.4,271"/>
<text class="es" x="898" y="273.6" font-size="6.8" textLength="28.2" lengthAdjust="spacing">scraper</text>
<text class="cn" x="942.2" y="314.6" font-size="9" textLength="26.2" lengthAdjust="spacing">供料盘</text>
<path class="rt" d="M940.5,316 H969.2 L992.9,308.4"/>
<text class="es" x="926.2" y="323.8" font-size="6.2" textLength="43.8" lengthAdjust="spacing">feding plate</text>
<text class="cn" x="1046.8" y="290" font-size="8.3" textLength="40" lengthAdjust="spacing">膜厚控制器</text>
<path class="rt" d="M1089,291.6 H1046 L1036,297"/>
<text class="es" x="1043.5" y="297.8" font-size="6.2" textLength="51.5" lengthAdjust="spacing">film th-ckness</text>
<text class="es" x="1043.5" y="305.7" font-size="6.2" textLength="34" lengthAdjust="spacing">controller</text>
<text class="cn" x="974.3" y="372" font-size="9" textLength="18.7" lengthAdjust="spacing">阀门</text>
<path class="rt" d="M969.3,373.6 H993.7 L1009,364.5"/>
<text class="es" x="971.8" y="382.2" font-size="7.6" textLength="24.5" lengthAdjust="spacing">value</text>
<text class="cn" x="1052" y="408.3" font-size="8.5">泵</text>
<path class="rt" d="M1061,409.4 H1051 L1036.8,416"/>
<text class="es" x="1051" y="419.3" font-size="7" textLength="19.5" lengthAdjust="spacing">pump</text>
<text class="ct" transform="scale(1.15,1)" font-size="12.9" x="847.57 862.26 872 882.78 895.65 909.04 922.26 935.39 948.09" y="451.3">（5）泵输送浸液式</text>
<text class="en" x="876" y="471.5" font-size="10.5" textLength="302" lengthAdjust="spacing">liquid immersing type through pump transmissi</text>
</g>
<g id="d6">
<line class="rd" x1="937" y1="522.2" x2="1178" y2="522.2"/>
<line class="rd" x1="1000.6" y1="476" x2="1000.6" y2="572"/>
<line class="rd" x1="1083.3" y1="476" x2="1083.3" y2="572"/>
<line class="lq" x1="982.4" y1="553.5" x2="1101.6" y2="553.5" stroke-dashoffset="0.0"/>
<line class="lq" x1="986.1" y1="555.8" x2="1097.9" y2="555.8" stroke-dashoffset="2.5"/>
<line class="lq" x1="989.8" y1="558.1" x2="1094.2" y2="558.1" stroke-dashoffset="0.0"/>
<line class="lq" x1="993.4" y1="560.4" x2="1090.6" y2="560.4" stroke-dashoffset="2.5"/>
<line class="lq" x1="996.0" y1="562.7" x2="1088.0" y2="562.7" stroke-dashoffset="0.0"/>
<line class="lq" x1="996.8" y1="565.0" x2="1087.2" y2="565.0" stroke-dashoffset="2.5"/>
<ellipse class="rw" cx="1000.6" cy="522.2" rx="40.8" ry="36.8"/>
<ellipse class="rw" cx="1083.3" cy="522.2" rx="40.8" ry="36.8"/>
<line class="rd" x1="958" y1="522.2" x2="1126" y2="522.2"/>
<line class="rd" x1="1000.6" y1="484" x2="1000.6" y2="560"/>
<line class="rd" x1="1083.3" y1="484" x2="1083.3" y2="560"/>
<path class="rm" d="M1022.4,530.4 A23.2,19.4 0 1 0 977.7,526"/>
<polygon class="raf" points="979,532.5 977.57,525.27 982.14,525.83"/>
<path class="rm" d="M1018.8,499.6 Q1000,490 984,500"/>
<polygon class="raf" points="979.5,502.3 984.46,496.89 986.66,500.71"/>
<path class="rt" d="M967.5,544.7 L1000.6,522.2 L1020.7,552.3"/>
<path class="r" d="M1067,497.8 Q1084,489.5 1101,500"/>
<polygon class="raf" points="1105.3,503.2 1098.28,500.95 1100.99,497.22"/>
<path class="r" d="M973.5,554 Q983,560 992.9,563.8 L1001.3,567.7 H1083.5 L1110,551.8"/>
<path class="rt" d="M975,556.5 L993,565.3 M1108,555 L1092,564.5"/>
<path class="rw" d="M1040,572.5 V542 Q1042.5,539 1045,542 V572.5 Z"/>
<path class="r" d="M1040,572.5 V542 Q1042.5,539 1045,542 V572.5 Z"/>
<path class="r" d="M959,567.5 V590.3 H1126 V569.5"/>
<path class="r" d="M962.5,535.4 H958.3 V542.2 L918.6,551.5 V565 L933.8,567.5 H959"/>
<rect class="r" x="908.5" y="552.3" width="3.4" height="15.2"/>
<path class="r" d="M911.9,556 L913.5,563 L915,556 L916.5,563 L918.6,556.5"/>
<path class="r" d="M918.6,554 H935.5 V565 M925,551 V566 M918.6,558 H935.5 M918.6,562 H930"/>
<path class="r" d="M935.5,555.8 L964.2,554 M935.5,559.2 L964.2,557.4"/>
<path class="rt" d="M941,555.5 V559 M946,555.2 V558.7 M951,554.9 V558.4 M956,554.6 V558.1 M960.5,554.3 V557.8"/>
<rect class="r" x="964.2" y="552.3" width="5" height="6.7"/>
<line class="r" x1="966.7" y1="543" x2="972.6" y2="564.5"/>
<circle class="rw" cx="973" cy="567.6" r="4"/>
<path class="r" d="M1123.9,533.8 H1126.9 V540.9 L1129.4,542.5 L1166.5,549.3 L1164,566.2 H1129.4 L1126,569.5"/>
<line class="r" x1="1129.4" y1="542.5" x2="1129.4" y2="566.2"/>
<path class="r" d="M1145,545.5 V550 H1164 M1140,551 L1139,555.5 H1165 M1143,556.5 L1142.5,561 H1164.5 M1148,561.5 V566"/>
<path class="r" d="M1119.6,550.5 L1133,552 L1141,555"/>
<path class="rt" d="M1119.6,553.5 L1132,555 L1140,558.5"/>
<rect class="r" x="1115" y="547.6" width="4.6" height="7.6"/>
<line class="r" x1="1114.2" y1="549.3" x2="1110.9" y2="564"/>
<circle class="rw" cx="1109.2" cy="567.2" r="3.8"/>
<path class="r" d="M1165.7,559.4 L1178.4,554.4 L1175,572 L1167,565.5 Z"/>
<path class="rt" d="M1170,558 L1169,567 M1172.5,557 L1171.5,569 M1175,556 L1173.8,571"/>
<path class="r" d="M1164.5,558 L1166,559.5 M1164.3,563.5 L1167,565.5"/>
<text class="cn" x="920.3" y="583.3" font-size="9" textLength="17" lengthAdjust="spacing">刮刀</text>
<path class="rt" d="M917,584.4 H938 L952,566 L967.5,544.7"/>
<text class="es" x="910.2" y="595.3" font-size="7.5" textLength="32" lengthAdjust="spacing">scraper</text>
<text class="ct" transform="scale(1.11,1)" font-size="12.9" x="857.21 872.07 881.53 893.6 906.49 919.19 932.88 949.1 961.98 974.95 987.93 1003.87" y="613.8">（6）浸液式（下部进料）</text>
<text class="en" x="897.3" y="632" font-size="10.3" textLength="277.4" lengthAdjust="spacing">immersing type(material fed from low part)</text>
</g>
</svg>
</body></html>
